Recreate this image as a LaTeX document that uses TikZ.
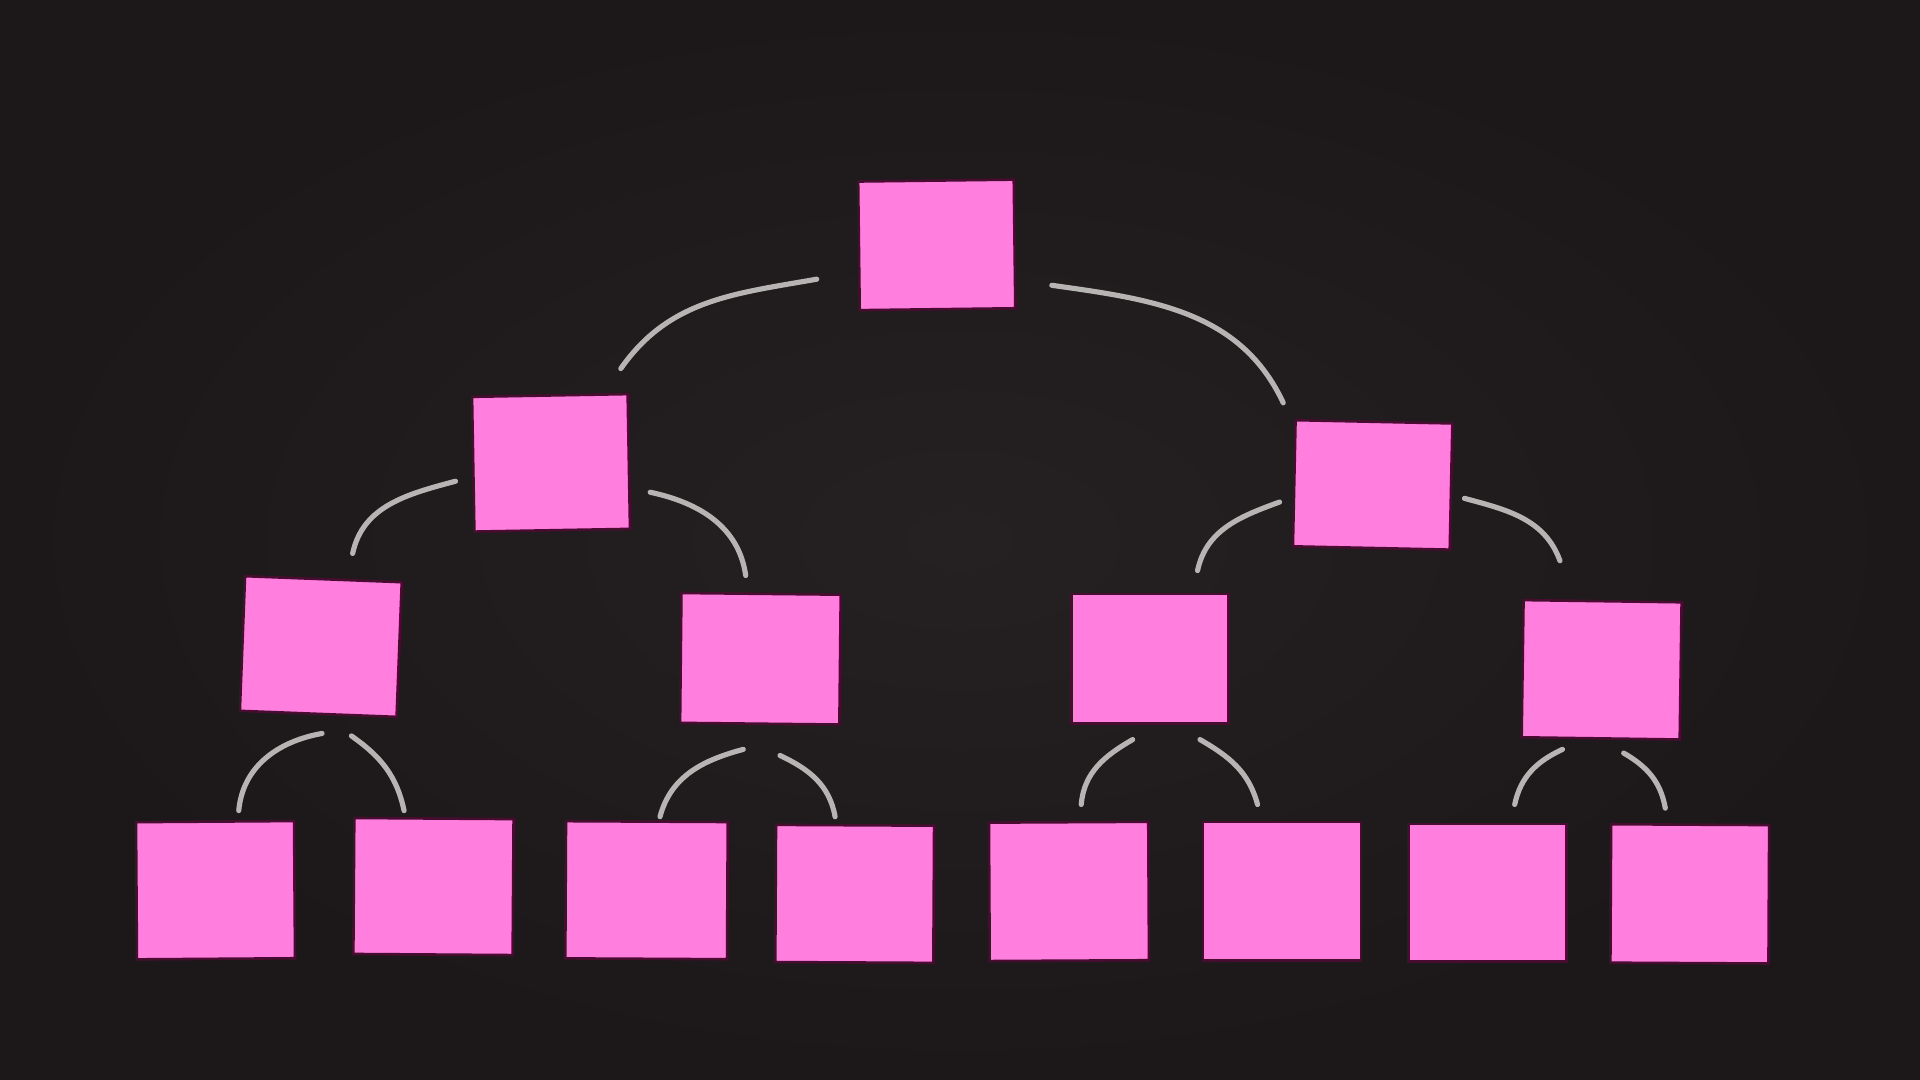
\documentclass[tikz,border=0pt]{standalone}
\usepackage{tikz}
\definecolor{board}{RGB}{28,24,26}
\definecolor{boardlight}{RGB}{37,32,34}
\definecolor{notepink}{RGB}{255,126,222}
\definecolor{noteedge}{RGB}{72,12,48}
\definecolor{chalkgray}{RGB}{200,197,197}

\begin{document}
\begin{tikzpicture}[x=0.01cm,y=-0.01cm]
    \tikzstyle{note}=[fill=notepink, draw=noteedge, line width=0.6pt, inner sep=0pt]
    \tikzstyle{chalk}=[draw=chalkgray, line width=1.2pt, line cap=round, opacity=0.9]
    \useasboundingbox (0,0) rectangle (1568,882);
    \shade[inner color=boardlight, outer color=board] (0,0) rectangle (1568,882);
    % the sticky notes
    \foreach \n/\x/\y/\w/\h/\r in {top/765/200/12.7mm/10.5mm/0.7,
        mid1/450/378/12.7mm/11mm/1, mid2/1121/396/12.8mm/10.3mm/-1.2,
        low1/262/528/12.8mm/11mm/-2.2, low2/621/538/13mm/10.6mm/-0.6,
        low3/939/538/12.8mm/10.6mm/0, low4/1308/547/12.9mm/11.2mm/-0.8,
        leaf1/176/727/12.9mm/11.2mm/0.4, leaf2/354/724/13mm/11.1mm/-0.4,
        leaf3/528/727/13.2mm/11.2mm/-0.3, leaf4/698/730/12.9mm/11.2mm/-0.3,
        leaf5/873/728/13mm/11.3mm/0.3, leaf6/1047/728/12.9mm/11.3mm/0,
        leaf7/1215/729/12.9mm/11.2mm/0, leaf8/1380/730/12.9mm/11.3mm/-0.3}
      \node[note, minimum width=\w, minimum height=\h, rotate=\r] (\n) at (\x,\y) {};
    % chalk ends
    \foreach \n/\x/\y in {t1/667/228, t2/859/233, m1/507/301, m2/1048/329,
        a1/372/393, a2/531/402, b1/1045/410, b2/1196/407,
        c1/288/452, c2/609/470, c3/978/466, c4/1274/458,
        d1/263/599, d2/287/601, d3/607/612, d4/637/617,
        d5/925/604, d6/980/604, d7/1276/612, d8/1326/615,
        e1/195/662, e2/330/662, e3/539/667, e4/682/667,
        e5/883/657, e6/1027/657, e7/1237/657, e8/1360/660}
      \coordinate (\n) at (\x,\y);
    % chalk arcs
    \foreach \s/\e/\o/\i in {t1/m1/190/55, t2/m2/-8/115,
        a1/c1/195/78, a2/c2/-12/98, b1/c3/200/78, b2/c4/-15/110,
        d1/e1/190/85, d2/e2/-35/102, d3/e3/195/75, d4/e4/-25/100,
        d5/e5/210/85, d6/e6/-30/105, d7/e7/205/78, d8/e8/-30/100}
      \draw[chalk] (\s) to[out=\o,in=\i] (\e);
\end{tikzpicture}
\end{document}
